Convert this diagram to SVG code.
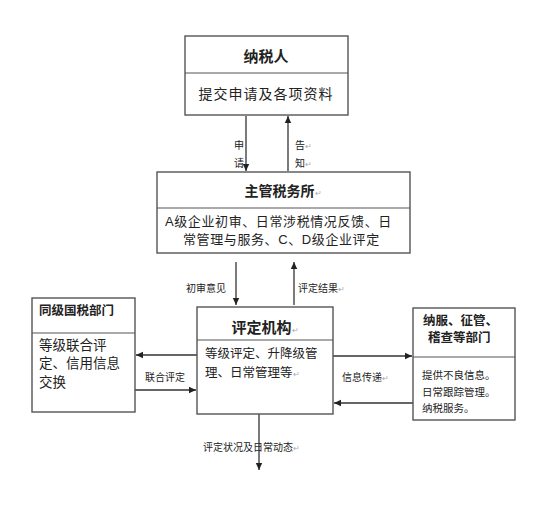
<svg xmlns="http://www.w3.org/2000/svg" width="533" height="517" viewBox="0 0 533 517">
<defs>
<marker id="ah" markerWidth="8" markerHeight="8" refX="7" refY="4" orient="auto" markerUnits="userSpaceOnUse">
<path d="M0,0.8 L7,4 L0,7.2 Z" fill="#222"/>
</marker>
<style>
.box{fill:#fff;stroke:#555;stroke-width:1.4}
.div{stroke:#555;stroke-width:1.2}
.t{font-family:"Liberation Sans","Noto Sans CJK SC",sans-serif;fill:#222}
.b{font-weight:bold}
.c{text-anchor:middle}
.ln{stroke:#333;stroke-width:1.3;fill:none;marker-end:url(#ah)}
.pm{fill:#aaa;font-size:8px}
</style>
</defs>
<rect width="533" height="517" fill="#fff"/>
<g id="connectors">
<line class="ln" x1="246" y1="116" x2="246" y2="171"/>
<line class="ln" x1="288" y1="171" x2="288" y2="116"/>
<line class="ln" x1="236" y1="262" x2="236" y2="305"/>
<line class="ln" x1="294" y1="305" x2="294" y2="262"/>
<line class="ln" x1="197" y1="355" x2="136" y2="355"/>
<line class="ln" x1="135" y1="390" x2="196" y2="390"/>
<line class="ln" x1="333" y1="356" x2="412" y2="356"/>
<line class="ln" x1="413" y1="403" x2="334" y2="403"/>
<line class="ln" x1="259" y1="414" x2="259" y2="470"/>
<g class="t" font-size="10">
<text x="234" y="149">申</text>
<text x="234" y="167">请</text>
<text x="295" y="149">告<tspan class="pm">↵</tspan></text>
<text x="295" y="167">知<tspan class="pm">↵</tspan></text>
<text x="186" y="292">初审意见</text>
<text x="298" y="292">评定结果<tspan class="pm">↵</tspan></text>
<text x="145" y="381">联合评定</text>
<text x="342" y="381">信息传递<tspan class="pm">↵</tspan></text>
<text x="203" y="451">评定状况及日常动态<tspan class="pm">↵</tspan></text>
</g>
</g>
<g id="taxpayer">
<rect class="box" x="185" y="36" width="163" height="79"/>
<line class="div" x1="185" y1="73" x2="348" y2="73"/>
<text class="t b c" x="266" y="62" font-size="15">纳税人</text>
<text class="t c" x="266" y="99" font-size="14" letter-spacing="1">提交申请及各项资料</text>
</g>
<g id="tax-office">
<rect class="box" x="157" y="172" width="253" height="81"/>
<line class="div" x1="157" y1="208" x2="410" y2="208"/>
<text class="t b c" x="283" y="196" font-size="14">主管税务所<tspan class="pm" font-weight="normal">↵</tspan></text>
<text class="t" x="165" y="226" font-size="13" letter-spacing="0.6">A级企业初审、日常涉税情况反馈、日</text>
<text class="t" x="183" y="244" font-size="13" letter-spacing="0.6">常管理与服务、C、D级企业评定</text>
</g>
<g id="rating-body">
<rect class="box" x="197" y="307" width="136" height="107"/>
<line class="div" x1="197" y1="340" x2="333" y2="340"/>
<text class="t b c" x="265" y="333" font-size="15">评定机构<tspan class="pm" font-weight="normal">↵</tspan></text>
<text class="t" x="205" y="358" font-size="12.5">等级评定、升降级管</text>
<text class="t" x="205" y="377" font-size="12.5">理、日常管理等<tspan class="pm">↵</tspan></text>
</g>
<g id="peer-tax-dept">
<rect class="box" x="32" y="298" width="103" height="114"/>
<line class="div" x1="32" y1="333" x2="135" y2="333"/>
<text class="t b" x="39" y="315" font-size="12.5">同级国税部门</text>
<text class="t" x="39" y="350" font-size="13.5">等级联合评</text>
<text class="t" x="39" y="368" font-size="13.5">定、信用信息</text>
<text class="t" x="39" y="387" font-size="13.5">交换</text>
</g>
<g id="service-depts">
<rect class="box" x="413" y="308" width="102" height="112"/>
<line class="div" x1="413" y1="357" x2="515" y2="357"/>
<text class="t b" x="423" y="325" font-size="12.5">纳服、征管、</text>
<text class="t b" x="428" y="342" font-size="12.5">稽查等部门</text>
<text class="t" x="422" y="379" font-size="10.5">提供不良信息。</text>
<text class="t" x="422" y="396" font-size="10.5">日常跟踪管理。</text>
<text class="t" x="422" y="412" font-size="10.5">纳税服务。</text>
</g>
</svg>
